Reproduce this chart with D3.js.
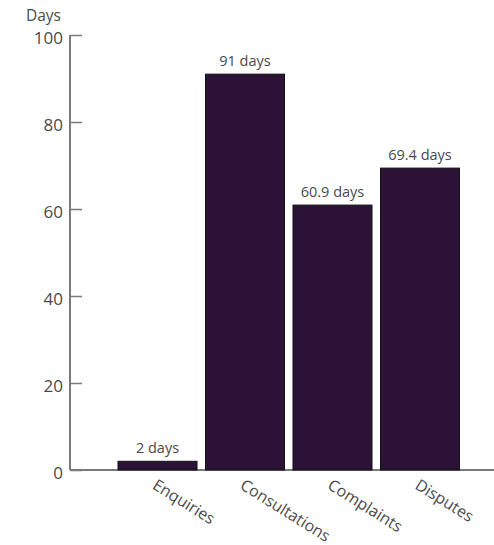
<!DOCTYPE html>
<html>
<head>
<meta charset="utf-8">
<script src="https://cdn.jsdelivr.net/npm/d3@7"></script>
<style>
  html, body { margin: 0; padding: 0; background: #fff; }
  svg { display: block; font-family: "Open Sans", "Noto Sans", sans-serif; }
</style>
</head>
<body>
<svg id="chart" width="494" height="545"></svg>
<script>
// Average handling time per case type, in days
const categories = ["Enquiries", "Consultations", "Complaints", "Disputes"];
const values = [2, 91, 60.9, 69.4];
const valueLabels = ["2 days", "91 days", "60.9 days", "69.4 days"];
const yTicks = [0, 20, 40, 60, 80, 100];

const svg = d3.select("#chart");
const axisColor = "#7a7a7a";
const textColor = "#4a4a4a";
const barColor = "#2d1238";

const x = d3.scaleBand()
  .domain(categories)
  .range([118, 459.5])
  .paddingInner(0.097)
  .paddingOuter(0);

const y = d3.scaleLinear().domain([0, 100]).range([470, 35]);

// Baseline across the full width
svg.append("line")
  .attr("x1", 70).attr("x2", 494)
  .attr("y1", y(0)).attr("y2", y(0))
  .attr("stroke", axisColor).attr("stroke-width", 2);

// Vertical axis with inward ticks
const yAxis = d3.axisRight(y).tickValues(yTicks).tickSize(12).tickFormat("");
const gy = svg.append("g").attr("transform", "translate(70,0)").call(yAxis);
gy.select(".domain").attr("stroke", axisColor).attr("stroke-width", 2)
  .attr("d", `M0,${y(100)}V${y(0)}`);
gy.selectAll(".tick line").attr("stroke", axisColor).attr("stroke-width", 1.5);

svg.append("g").selectAll("text")
  .data(yTicks)
  .join("text")
  .attr("x", 63)
  .attr("y", d => y(d))
  .attr("dy", "0.5em")
  .attr("text-anchor", "end")
  .attr("font-size", 17)
  .attr("fill", textColor)
  .text(d => d);

svg.append("text")
  .attr("x", 26).attr("y", 21)
  .attr("font-size", 15.5)
  .attr("fill", textColor)
  .text("Days");

// Bars
svg.append("g").selectAll("rect")
  .data(values)
  .join("rect")
  .attr("x", (d, i) => x(categories[i]))
  .attr("y", d => y(d))
  .attr("width", x.bandwidth())
  .attr("height", d => y(0) - y(d))
  .attr("fill", barColor)
  .attr("stroke", "#111")
  .attr("stroke-width", 1);

// Value labels above bars
svg.append("g").selectAll("text")
  .data(values)
  .join("text")
  .attr("x", (d, i) => x(categories[i]) + x.bandwidth() / 2)
  .attr("y", d => y(d) - 8)
  .attr("text-anchor", "middle")
  .attr("font-size", 14.5)
  .attr("fill", textColor)
  .text((d, i) => valueLabels[i]);

// Rotated category labels
svg.append("g").selectAll("text")
  .data(categories)
  .join("text")
  .attr("transform", d => `translate(${x(d) + x.bandwidth() / 2 - 6},488) rotate(32)`)
  .attr("font-size", 16)
  .attr("fill", textColor)
  .text(d => d);
</script>
</body>
</html>
